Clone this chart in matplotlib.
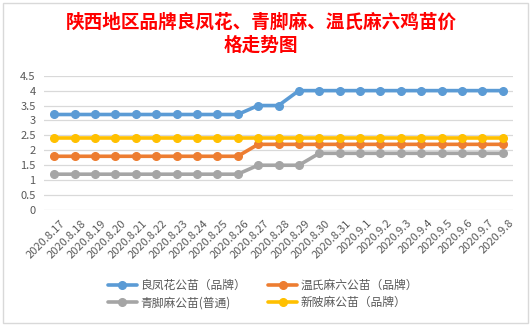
import matplotlib
matplotlib.use("Agg")
import matplotlib.pyplot as plt
from matplotlib.patches import Rectangle
import matplotlib.transforms as mtrans

plt.rcParams['font.family'] = ['Noto Sans CJK SC', 'DejaVu Sans']

dates = ["2020.8.17", "2020.8.18", "2020.8.19", "2020.8.20", "2020.8.21", "2020.8.22",
         "2020.8.23", "2020.8.24", "2020.8.25", "2020.8.26", "2020.8.27", "2020.8.28",
         "2020.8.29", "2020.8.30", "2020.8.31", "2020.9.1", "2020.9.2", "2020.9.3",
         "2020.9.4", "2020.9.5", "2020.9.6", "2020.9.7", "2020.9.8"]

liangfenghua = [3.2]*10 + [3.5, 3.5] + [4.0]*11
wenshi = [1.8]*10 + [2.2]*13
qingjiao = [1.2]*10 + [1.5, 1.5, 1.5] + [1.9]*10
xinpi = [2.4]*23

names = ["良凤花公苗（品牌）", "温氏麻六公苗（品牌）", "青脚麻公苗(普通)", "新陂麻公苗（品牌）"]
colors = ["#5B9BD5", "#ED7D31", "#A5A5A5", "#FFC000"]
series = [liangfenghua, wenshi, qingjiao, xinpi]

W, H = 531, 326
fig = plt.figure(figsize=(W/100, H/100), dpi=100)
fig.patch.set_facecolor("white")

# chart frame
fig.add_artist(Rectangle((3/W, 3/H), (528-3)/W, (323-3)/H, transform=fig.transFigure,
                         fill=False, edgecolor="#D9D9D9", lw=1))

ax = fig.add_axes([44/W, (H-210)/H, (513-44)/W, (210-75.7)/H])
x = list(range(len(dates)))
handles = []
for s, c, n in zip(series, colors, names):
    ln, = ax.plot(x, s, color=c, lw=2.6, marker='o', markersize=5.5, label=n,
                  solid_capstyle='round')
    handles.append(ln)

ax.set_xlim(-0.5, len(dates)-0.5)
ax.set_ylim(0, 4.5)
ax.set_yticks([0, 0.5, 1, 1.5, 2, 2.5, 3, 3.5, 4, 4.5])
ax.set_yticklabels(["0", "0.5", "1", "1.5", "2", "2.5", "3", "3.5", "4", "4.5"])
ax.yaxis.grid(True, color="#D9D9D9", lw=0.9)
ax.set_axisbelow(True)
for sp in ax.spines.values():
    sp.set_visible(False)
ax.tick_params(axis='y', length=0, pad=6, labelsize=8, labelcolor="#595959")
ax.tick_params(axis='x', length=0, pad=0, labelsize=8, labelcolor="#595959")
ax.set_xticks(x)
ax.set_xticklabels(dates, rotation=45, ha='right', va='top', rotation_mode='anchor')
off = mtrans.ScaledTranslation(6/100, -8/100, fig.dpi_scale_trans)
for lab in ax.get_xticklabels():
    lab.set_transform(lab.get_transform() + off)

fig.text(261/W, 1-22/H, "陕西地区品牌良凤花、青脚麻、温氏麻六鸡苗价", color="#FF0000",
         fontsize=13.4, fontweight='bold', ha='center', va='center')
fig.text(261/W, 1-45/H, "格走势图", color="#FF0000",
         fontsize=13.4, fontweight='bold', ha='center', va='center')

order = [handles[0], handles[2], handles[1], handles[3]]
leg = fig.legend(order, [h.get_label() for h in order], ncol=2, loc='center',
                 bbox_to_anchor=(263/W, 1-294/H), frameon=False, fontsize=8.5,
                 handlelength=2.5, handletextpad=0.3, columnspacing=1.8,
                 labelspacing=0.35, labelcolor="#595959")

fig.savefig("out.png", dpi=100, facecolor="white")
